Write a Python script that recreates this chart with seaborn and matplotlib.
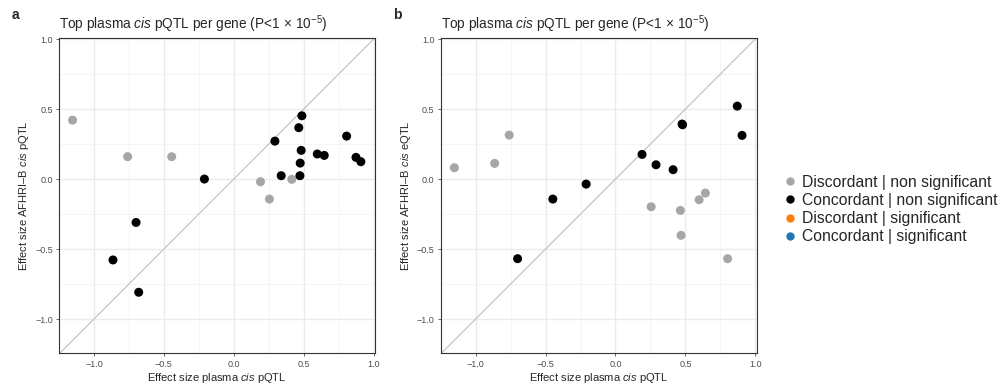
import pandas as pd
import matplotlib.pyplot as plt
import seaborn as sns
from matplotlib.lines import Line2D

# panel a: plasma cis pQTL vs AFHRI-B cis pQTL
a_x = [-1.153, -0.759, -0.444, 0.191, 0.415, 0.255,
       -0.21, 0.294, 0.487, 0.465, 0.482, 0.475, 0.339, 0.473, 0.597, 0.647,
       0.807, 0.874, 0.909, -0.699, -0.864, -0.680]
a_y = [0.421, 0.160, 0.160, -0.019, -0.002, -0.143,
       0.0, 0.271, 0.452, 0.367, 0.205, 0.114, 0.024, 0.024, 0.179, 0.169,
       0.307, 0.155, 0.124, -0.31, -0.578, -0.809]
a_grp = ['Discordant | non significant'] * 6 + ['Concordant | non significant'] * 16

# panel b: plasma cis pQTL vs AFHRI-B cis eQTL
b_x = [-1.152, -0.864, -0.760, 0.255, 0.464, 0.469, 0.598, 0.643, 0.802,
       -0.448, -0.21, -0.70, 0.19, 0.29, 0.412, 0.476, 0.480, 0.871, 0.905]
b_y = [0.081, 0.112, 0.314, -0.198, -0.224, -0.402, -0.148, -0.100, -0.569,
       -0.143, -0.036, -0.569, 0.176, 0.102, 0.067, 0.393, 0.388, 0.521, 0.312]
b_grp = ['Discordant | non significant'] * 9 + ['Concordant | non significant'] * 10

categories = ['Discordant | non significant', 'Concordant | non significant',
              'Discordant | significant', 'Concordant | significant']
colors = ['#A6A6A6', '#000000', '#FF7F0E', '#1F77B4']
palette = dict(zip(categories, colors))

sns.set_style('white')
plt.rcParams['font.family'] = ['Liberation Sans', 'DejaVu Sans']
plt.rcParams['mathtext.fontset'] = 'custom'
plt.rcParams['mathtext.rm'] = 'Liberation Sans'
plt.rcParams['mathtext.it'] = 'Liberation Sans:italic'

fig = plt.figure(figsize=(10.02, 3.85), dpi=100)
W, H = 1002, 385
ax_a = fig.add_axes([59 / W, 1 - 353.3 / H, 316 / W, 315.6 / H])
ax_b = fig.add_axes([440.7 / W, 1 - 353.3 / H, 316 / W, 315.6 / H])

panels = [
    (ax_a, a_x, a_y, a_grp, 'Effect size AFHRI\u2013B $\\mathit{cis}$ pQTL', 'a'),
    (ax_b, b_x, b_y, b_grp, 'Effect size AFHRI\u2013B $\\mathit{cis}$ eQTL', 'b'),
]

for ax, xs, ys, gs, ylab, tag in panels:
    df = pd.DataFrame({'x': xs, 'y': ys, 'group': gs})
    ax.set_xlim(-1.25, 1.01)
    ax.set_ylim(-1.245, 1.01)
    ticks_minor = [-1.25, -0.75, -0.25, 0.25, 0.75]
    for t in ticks_minor:
        ax.axvline(t, color='#F2F2F2', lw=0.5, zorder=0)
        ax.axhline(t, color='#F2F2F2', lw=0.5, zorder=0)
    for t in [-1.0, -0.5, 0.0, 0.5, 1.0]:
        ax.axvline(t, color='#EBEBEB', lw=1.0, zorder=0)
        ax.axhline(t, color='#EBEBEB', lw=1.0, zorder=0)
    ax.plot([-1.3, 1.1], [-1.3, 1.1], color='#BEBEBE', lw=0.8, zorder=1)
    sns.scatterplot(data=df, x='x', y='y', hue='group', palette=palette,
                    s=42, edgecolor='none', legend=False, ax=ax, zorder=3)
    ax.set_xticks([-1.0, -0.5, 0.0, 0.5, 1.0])
    ax.set_yticks([-1.0, -0.5, 0.0, 0.5, 1.0])
    ax.set_xticklabels(['\u22121.0', '\u22120.5', '0.0', '0.5', '1.0'])
    ax.set_yticklabels(['\u22121.0', '\u22120.5', '0.0', '0.5', '1.0'])
    ax.tick_params(axis='both', labelsize=6.5, colors='#4D4D4D', length=2.5,
                   width=0.6, pad=2, bottom=True, left=True)
    for sp in ax.spines.values():
        sp.set_color('#333333')
        sp.set_linewidth(0.8)
    ax.set_xlabel('Effect size plasma $\\mathit{cis}$ pQTL', fontsize=8, labelpad=2)
    ax.set_ylabel(ylab, fontsize=8, labelpad=3)
    ax.set_title('Top plasma $\\mathit{cis}$ pQTL per gene (P<1$\\,\\times\\,$10$^{-5}$)',
                 fontsize=9.8, loc='left', pad=6)
    ax.text(-0.15, 1.05, tag, transform=ax.transAxes, fontsize=10,
            fontweight='bold', va='bottom', ha='left')

handles = [Line2D([0], [0], marker='o', color='none', markerfacecolor=c,
                  markeredgecolor='none', markersize=6) for c in colors]
fig.legend(handles, categories, loc='center left', bbox_to_anchor=(775 / W, 1 - 209.5 / H),
           frameon=False, fontsize=11.3, handletextpad=0.25, labelspacing=0.2,
           handlelength=1.1, borderaxespad=0)

fig.savefig('out.png', dpi=100)
